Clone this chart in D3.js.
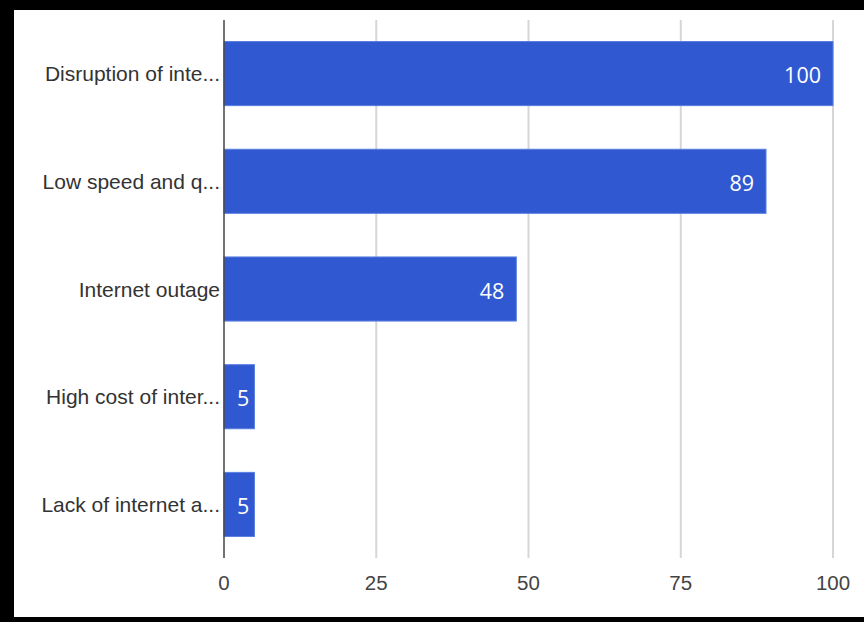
<!DOCTYPE html>
<html>
<head>
<meta charset="utf-8">
<script src="https://cdn.jsdelivr.net/npm/d3@7"></script>
<style>
  html, body { margin: 0; padding: 0; background: #fff; }
  svg { display: block; }
</style>
</head>
<body>
<svg id="chart" width="864" height="622"></svg>
<script>
// Reported internet problems (counts)
const categories = [
  "Disruption of inte...",
  "Low speed and q...",
  "Internet outage",
  "High cost of inter...",
  "Lack of internet a..."
];
const values = [100, 89, 48, 5, 5];
const xTicks = [0, 25, 50, 75, 100];

const svg = d3.select("#chart");
const W = 864, H = 622;

// frame
svg.append("rect").attr("x", 0).attr("y", 0).attr("width", W).attr("height", H).attr("fill", "#000");
svg.append("rect").attr("x", 14).attr("y", 10).attr("width", W - 14).attr("height", 607).attr("fill", "#fff");

const plotLeft = 224, plotRight = 833, plotTop = 20, plotBottom = 558;

const x = d3.scaleLinear().domain([0, 100]).range([plotLeft, plotRight]);
const y = d3.scaleBand().domain(categories).range([plotTop, plotBottom]).paddingInner(0.405).paddingOuter(0.2);

// vertical gridlines
svg.append("g").selectAll("line")
  .data(xTicks.filter(t => t !== 0))
  .join("line")
  .attr("x1", d => x(d)).attr("x2", d => x(d))
  .attr("y1", plotTop).attr("y2", plotBottom)
  .attr("stroke", "#d6d6d6").attr("stroke-width", 2);

// bars
svg.append("g").selectAll("rect")
  .data(values)
  .join("rect")
  .attr("x", x(0))
  .attr("y", (d, i) => y(categories[i]))
  .attr("width", d => x(d) - x(0))
  .attr("height", y.bandwidth())
  .attr("fill", "#3059d1")
  .attr("stroke", "#5a7ee0")
  .attr("stroke-width", 1);

// baseline
svg.append("line")
  .attr("x1", x(0)).attr("x2", x(0))
  .attr("y1", plotTop).attr("y2", plotBottom)
  .attr("stroke", "#444").attr("stroke-width", 1.5);

// value labels
svg.append("g").selectAll("text")
  .data(values)
  .join("text")
  .attr("x", d => {
    const w = x(d) - x(0);
    return w < 40 ? x(0) + w / 2 + 4 : x(d) - 12;
  })
  .attr("y", (d, i) => y(categories[i]) + y.bandwidth() / 2 + 2)
  .attr("dy", "0.36em")
  .attr("text-anchor", d => (x(d) - x(0)) < 40 ? "middle" : "end")
  .attr("fill", "#fff")
  .attr("font-family", "'Open Sans', 'Noto Sans', sans-serif")
  .attr("font-size", 21.5)
  .text(d => d);

// category labels
svg.append("g").selectAll("text")
  .data(categories)
  .join("text")
  .attr("x", plotLeft - 4)
  .attr("y", d => y(d) + y.bandwidth() / 2)
  .attr("dy", "0.36em")
  .attr("text-anchor", "end")
  .attr("fill", "#333")
  .attr("font-family", "'Liberation Sans', Arial, sans-serif")
  .attr("font-size", 21)
  .text(d => d);

// x tick labels
svg.append("g").selectAll("text")
  .data(xTicks)
  .join("text")
  .attr("x", d => x(d))
  .attr("y", 583)
  .attr("dy", "0.36em")
  .attr("text-anchor", "middle")
  .attr("fill", "#444")
  .attr("font-family", "'Liberation Sans', Arial, sans-serif")
  .attr("font-size", 20.5)
  .text(d => d);
</script>
</body>
</html>
